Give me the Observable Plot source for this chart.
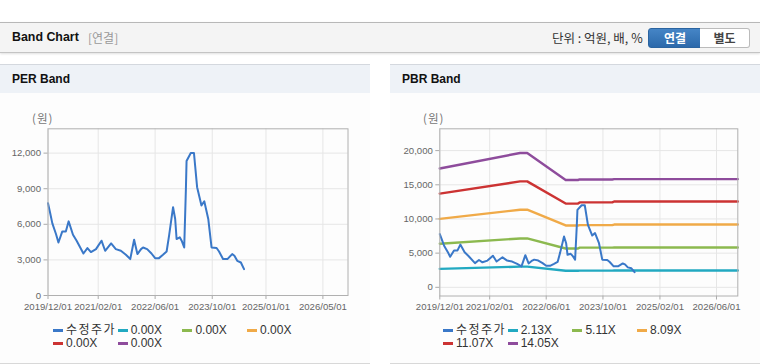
<!DOCTYPE html>
<html><head><meta charset="utf-8">
<script src="https://cdn.jsdelivr.net/npm/d3@7"></script>
<script src="https://cdn.jsdelivr.net/npm/@observablehq/plot@0.6"></script>
<style>
html,body{margin:0;padding:0;background:#fff;}
body{width:760px;height:364px;position:relative;overflow:hidden;font-family:"Liberation Sans","Noto Sans CJK KR",sans-serif;}
.abs{position:absolute;}
#hdr{left:0;top:22px;width:760px;height:29px;background:#f4f4f4;border-top:1px solid #b8b8b8;border-bottom:1px solid #c4c4c4;box-shadow:0 1px 2px rgba(0,0,0,0.12);}
.ttl{font-weight:bold;font-size:12.4px;color:#111;}
.panel{top:64px;width:370px;height:298px;border-top:1px solid #d4d8de;border-bottom:1px solid #d8d8d8;background:#fdfdfd;}
.phead{position:absolute;left:0;top:0;width:100%;height:28px;background:#eef2f7;}
.btn{top:28px;height:18px;font-size:12px;font-weight:bold;text-align:center;line-height:18px;font-family:"Noto Sans CJK KR",sans-serif;}
.leg{font-size:12px;color:#333;height:13px;line-height:13px;white-space:nowrap;font-family:"Liberation Sans","Noto Sans CJK KR",sans-serif;}
.sw{position:absolute;width:10px;height:3px;}
.unit{font-size:11.5px;color:#777;font-family:"Noto Sans CJK KR",sans-serif;letter-spacing:1px;}
</style></head>
<body>
<div id="hdr" class="abs"></div>
<div class="abs ttl" style="left:12px;top:30px;">Band Chart</div>
<div class="abs" style="left:88px;top:31px;font-size:12px;color:#999;font-family:'Noto Sans CJK KR',sans-serif;line-height:14px;">[연결]</div>
<div class="abs" style="left:552px;top:31px;font-size:12.5px;color:#333;font-family:'Noto Sans CJK KR',sans-serif;line-height:14px;">단위 : 억원, 배, %</div>
<div class="abs btn" style="left:648px;width:52px;background:linear-gradient(#4585c6,#2c69ab);color:#fff;border:1px solid #2b64a0;border-radius:3px 0 0 3px;">연결</div>
<div class="abs btn" style="left:700px;width:49px;background:#fff;color:#444;border:1px solid #bbb;border-left:none;border-radius:0 3px 3px 0;">별도</div>

<div class="abs panel" style="left:0;"><div class="phead"></div></div>
<div class="abs panel" style="left:390px;"><div class="phead"></div></div>
<div class="abs ttl" style="left:12px;top:72px;font-size:12px;">PER Band</div>
<div class="abs ttl" style="left:402px;top:72px;font-size:12px;">PBR Band</div>
<div class="abs unit" style="left:32px;top:110px;">(원)</div>
<div class="abs unit" style="left:423px;top:110px;">(원)</div>
<div id="per" class="abs" style="left:0;top:100px;"></div>
<div id="pbr" class="abs" style="left:390px;top:100px;"></div>
<div id="legs"></div>
<script>
// ---- data ----
const stockDates = ["2019-12-01","2019-12-18","2020-01-07","2020-02-07","2020-02-28","2020-04-01","2020-05-01","2020-05-25","2020-07-01","2020-08-01","2020-09-28","2020-11-01","2020-12-01","2021-01-13","2021-03-01","2021-04-01","2021-05-22","2021-07-01","2021-08-13","2021-09-25","2021-11-01","2021-12-04","2022-01-01","2022-02-01","2022-02-18","2022-03-25","2022-05-01","2022-06-01","2022-07-04","2022-08-07","2022-09-07","2022-09-28","2022-11-01","2022-11-19","2022-12-01","2022-12-28","2023-01-13","2023-02-04","2023-02-18","2023-02-24","2023-04-01","2023-04-28","2023-05-25","2023-07-01","2023-07-25","2023-08-28","2023-09-25","2023-11-07","2023-11-28","2024-01-01","2024-02-07","2024-03-19","2024-04-07","2024-05-01","2024-06-01","2024-06-28"];
const stockPrice = [7780,7010,6080,5180,4470,5400,5400,6250,5120,4620,3540,4000,3660,3910,4620,3770,4390,3910,3770,3430,3070,4700,3490,3910,4050,3910,3540,3150,3150,3430,3710,5040,7440,6450,4760,4900,4620,4050,8850,11330,12010,12010,9130,7580,7940,6450,4050,4000,3710,3070,3070,3490,3350,2920,2780,2220];

const bandDates = ["2019-12-01","2021-10-20","2021-12-20","2022-11-15","2023-03-01","2023-03-15","2023-12-20","2024-01-05","2026-12-01"];
const band213 = [2700,3030,3030,2420,2420,2440,2440,2450,2450];
const band511 = [6380,7150,7150,5680,5680,5800,5800,5820,5820];
const band809 = [10020,11350,11350,9050,9050,9100,9100,9180,9180];
const band1107 = [13700,15500,15500,12250,12250,12420,12420,12560,12560];
const band1405 = [17380,19650,19650,15700,15700,15780,15780,15830,15830];

const perXTicks = ["2019-12-01","2021-02-01","2022-06-01","2023-10-01","2025-01-01","2026-05-01"];
const pbrXTicks = ["2019-12-01","2021-02-01","2022-06-01","2023-10-01","2025-02-01","2026-06-01"];
const perYTicks = [0,3000,6000,9000,12000];
const pbrYTicks = [0,5000,10000,15000,20000];
const xDomain = ["2019-12-01","2026-12-01"];

const perLegend = ["수정주가","0.00X","0.00X","0.00X","0.00X","0.00X"];
const pbrLegend = ["수정주가","2.13X","5.11X","8.09X","11.07X","14.05X"];
const seriesColors = ["#3a78c8","#22a9c1","#8cb94f","#f0aa48","#cc3333","#8e4c9c"];

// ---- build ----
const P = d => new Date(d + "T00:00:00Z");
const stock = stockDates.map((d,i)=>({date:P(d), v:stockPrice[i]}));
const bandArrays = [band213,band511,band809,band1107,band1405];
const bands = [];
bandArrays.forEach((arr,k)=>arr.forEach((v,i)=>bands.push({date:P(bandDates[i]), v, k})));

const tickFont = "'Liberation Sans',Arial,sans-serif";
function chart(opts){
  const xt = opts.xTicks.map(P);
  return Plot.plot({
    width: 370, height: 220,
    marginLeft: opts.ml, marginRight: opts.mr, marginTop: 28.3, marginBottom: opts.mb,
    style: {fontFamily: tickFont, fontSize: "9.6px", color: "#666", background: "transparent", overflow: "visible"},
    x: {type: "utc", domain: xDomain.map(P), label: null},
    y: {domain: opts.yDomain, label: null},
    marks: [
      Plot.gridX(xt, {stroke: "#e6e6e6", strokeOpacity: 1}),
      Plot.gridY(opts.yTicks, {stroke: "#e6e6e6", strokeOpacity: 1}),
      Plot.axisX(xt, {tickFormat: d3.utcFormat("%Y/%m/%d"), tickSize: 4, tickPadding: 3.5, stroke: "#aaa", color: "#666"}),
      Plot.axisY(opts.yTicks, {tickFormat: d3.format(","), tickSize: 4, tickPadding: 3, stroke: "#aaa", color: "#666"}),
      ...(opts.bands ? [Plot.line(opts.bands, {x: "date", y: "v", z: "k", stroke: d => seriesColors[d.k+1], strokeWidth: 2.4})] : []),
      Plot.line(stock, {x: "date", y: "v", stroke: seriesColors[0], strokeWidth: 2}),
      Plot.frame({stroke: "#b0b0b0"})
    ]
  });
}
document.getElementById("per").appendChild(chart({ml:47.5, mr:22.5, mb:25, xTicks: perXTicks, yTicks: perYTicks, yDomain:[0,14050]}));
document.getElementById("pbr").appendChild(chart({ml:49.3, mr:22.7, mb:24.5, xTicks: pbrXTicks, yTicks: pbrYTicks, yDomain:[-1270,23190], bands}));

// legends
const legs = document.getElementById("legs");
function legend(labels, x0){
  labels.forEach((t,i)=>{
    const col = i % 4, row = Math.floor(i/4);
    const x = x0 + col*64.7, y = 323.5 + row*13.3;
    const el = document.createElement("div");
    el.className = "abs leg";
    el.style.left = x + "px"; el.style.top = y + "px";
    const ls = /[가-힣]/.test(t) ? "letter-spacing:1.5px;" : "";
    el.innerHTML = `<span class="sw" style="left:0;top:5.5px;background:${seriesColors[i]}"></span><span style="position:absolute;left:13px;top:0;${ls}">${t}</span>`;
    legs.appendChild(el);
  });
}
legend(perLegend, 53);
legend(pbrLegend, 443);
</script>
</body></html>
